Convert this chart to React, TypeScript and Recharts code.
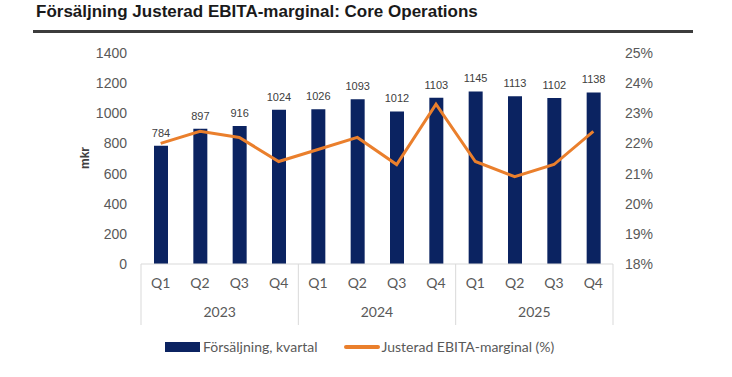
import React from 'react';
import { ComposedChart, Bar, Line, XAxis, YAxis, LabelList, Legend } from 'recharts';

const quarters = ['Q1', 'Q2', 'Q3', 'Q4', 'Q1', 'Q2', 'Q3', 'Q4', 'Q1', 'Q2', 'Q3', 'Q4'];
const years = ['2023', '2023', '2023', '2023', '2024', '2024', '2024', '2024', '2025', '2025', '2025', '2025'];
const sales = [784, 897, 916, 1024, 1026, 1093, 1012, 1103, 1145, 1113, 1102, 1138];
const margin = [22.0, 22.4, 22.2, 21.4, 21.8, 22.2, 21.3, 23.3, 21.4, 20.9, 21.3, 22.4];
const leftTicks = [0, 200, 400, 600, 800, 1000, 1200, 1400];
const rightTicks = [18, 19, 20, 21, 22, 23, 24, 25];

const data = quarters.map((q, i) => ({ q, year: years[i], sales: sales[i], margin: margin[i] }));

const NAVY = '#0b2361';
const ORANGE = '#ea7f2c';
const GRID = '#d9d9d9';
const TICK_FONT = 'Lato, "Liberation Sans", sans-serif';

const QuarterTick = (props: any) => {
  const { x, y, payload } = props;
  const idx: number = payload.index;
  const half: number = payload.offset || 19.67;
  const items: React.ReactNode[] = [];
  items.push(
    <text key="q" x={x} y={y + 24} textAnchor="middle" fontSize={14} fill="#595959" fontFamily={TICK_FONT}>
      {payload.value}
    </text>
  );
  if (idx % 4 === 0) {
    items.push(<line key="l" x1={x - half} x2={x - half} y1={y} y2={y + 61} stroke={GRID} strokeWidth={1} />);
  }
  if (idx === data.length - 1) {
    items.push(<line key="r" x1={x + half} x2={x + half} y1={y} y2={y + 61} stroke={GRID} strokeWidth={1} />);
  }
  if (idx % 4 === 1) {
    items.push(
      <text key="y" x={x + half} y={y + 53} textAnchor="middle" fontSize={14} fill="#595959" fontFamily={TICK_FONT}>
        {data[idx].year}
      </text>
    );
  }
  return <g>{items}</g>;
};

const LegendContent = () => (
  <div style={{ display: 'flex', alignItems: 'center', paddingLeft: 165, fontFamily: TICK_FONT, fontSize: 14, color: '#595959' }}>
    <span style={{ display: 'inline-block', width: 35, height: 10, background: NAVY, marginRight: 3 }} />
    <span>Försäljning, kvartal</span>
    <span style={{ display: 'inline-block', width: 36, height: 4, background: ORANGE, marginLeft: 26, marginRight: 2, borderRadius: 2 }} />
    <span>Justerad EBITA-marginal (%)</span>
  </div>
);

export default function App() {
  return (
    <div style={{ position: 'absolute', left: 0, top: 0, width: 732, height: 377, background: '#fff' }}>
      <div
        style={{
          position: 'absolute',
          left: 36,
          top: 2,
          fontFamily: '"Liberation Sans", Arial, sans-serif',
          fontWeight: 'bold',
          fontSize: 17,
          color: '#1a1a1a',
          whiteSpace: 'nowrap',
        }}
      >
        Försäljning Justerad EBITA-marginal: Core Operations
      </div>
      <div style={{ position: 'absolute', left: 33, top: 30, width: 660, height: 3, background: '#3c3c3c' }} />
      <div
        style={{
          position: 'absolute',
          left: 85,
          top: 158,
          transform: 'translate(-50%, -50%) rotate(-90deg)',
          fontFamily: '"Liberation Sans", Arial, sans-serif',
          fontWeight: 'bold',
          fontSize: 12,
          color: '#404040',
        }}
      >
        mkr
      </div>
      <ComposedChart width={732} height={377} data={data} margin={{ top: 53, right: 59, bottom: 43, left: 70 }}>
        <XAxis
          dataKey="q"
          height={70}
          tickLine={false}
          tickSize={0}
          tickMargin={0}
          axisLine={{ stroke: GRID }}
          interval={0}
          tick={<QuarterTick />}
        />
        <YAxis
          yAxisId="left"
          width={71}
          domain={[0, 1400]}
          ticks={leftTicks}
          axisLine={false}
          tickLine={false}
          tickSize={0}
          tickMargin={14}
          tick={{ fontSize: 14, fill: '#595959', fontFamily: '"Liberation Sans", Arial, sans-serif' }}
        />
        <YAxis
          yAxisId="right"
          orientation="right"
          width={60}
          domain={[18, 25]}
          ticks={rightTicks}
          axisLine={false}
          tickLine={false}
          tickSize={0}
          tickMargin={12}
          tickFormatter={(v: number) => `${v}%`}
          tick={{ fontSize: 14, fill: '#595959', fontFamily: '"Liberation Sans", Arial, sans-serif' }}
        />
        <Bar yAxisId="left" dataKey="sales" name="Försäljning, kvartal" fill={NAVY} barSize={14} isAnimationActive={false}>
          <LabelList dataKey="sales" position="top" offset={9} fontSize={11} fill="#404040" fontFamily='"Liberation Sans", Arial, sans-serif' />
        </Bar>
        <Line
          yAxisId="right"
          dataKey="margin"
          name="Justerad EBITA-marginal (%)"
          stroke={ORANGE}
          strokeWidth={3}
          dot={false}
          type="linear"
          isAnimationActive={false}
        />
        <Legend
          layout="horizontal"
          verticalAlign="middle"
          align="center"
          wrapperStyle={{ top: 338, left: 0, width: 732 }}
          content={<LegendContent />}
        />
      </ComposedChart>
    </div>
  );
}
